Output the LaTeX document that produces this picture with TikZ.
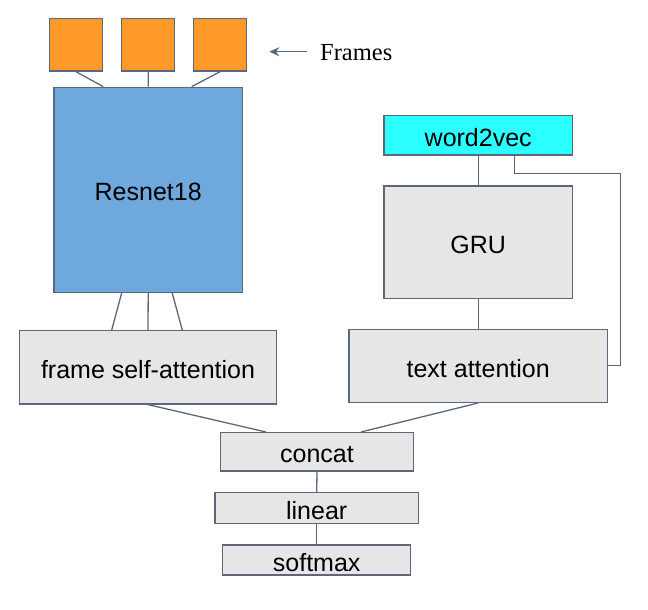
\documentclass[tikz,border=0pt]{standalone}
\usepackage{fontspec}
\setmainfont{Liberation Sans}
\newfontfamily\seriffam{Liberation Serif}
\usetikzlibrary{arrows.meta}
\definecolor{edgec}{RGB}{92,104,122}
\definecolor{grayfill}{RGB}{230,230,230}
\definecolor{orangefill}{RGB}{255,154,42}
\definecolor{bluefill}{RGB}{111,168,220}
\definecolor{cyanfill}{RGB}{44,255,255}
\newcommand{\lbl}[1]{\raisebox{-2.5pt}[\height][\depth]{#1}}
\tikzset{
  box/.style={draw=edgec, line width=1.3pt, inner sep=0pt, fill=grayfill,
    font=\fontsize{25}{29}\selectfont, text=black},
  conn/.style={draw=edgec, line width=1.3pt},
}
\begin{document}
\begin{tikzpicture}[x=1pt,y=-1pt]
\useasboundingbox (0,0) rectangle (648,610);
% frames
\node[box, fill=orangefill, minimum width=53pt, minimum height=52.5pt] (f1) at (76,44.8) {};
\node[box, fill=orangefill, minimum width=53pt, minimum height=52.5pt] (f2) at (148.3,44.8) {};
\node[box, fill=orangefill, minimum width=53pt, minimum height=52.5pt] (f3) at (220,44.8) {};
\node[inner sep=0pt, anchor=west, font=\seriffam\fontsize{24.5}{29}\selectfont] (frames) at (320,53) {Frames};
\coordinate (ah) at (269.3,51.7);
\draw[conn, -{Stealth[length=10pt,width=9pt]}] ([xshift=-13pt,yshift=1.3pt]frames.west) -- (ah);
% resnet
\node[box, fill=bluefill, minimum width=188.3pt, minimum height=205pt] (res) at (148.2,189.8) {\lbl{Resnet18}};
\node[box, minimum width=257.4pt, minimum height=73.3pt] (fsa) at (148,367.3) {\lbl{frame self-attention}};
% text branch
\node[box, fill=cyanfill, minimum width=188.3pt, minimum height=39.3pt] (w2v) at (478.2,135.3) {\lbl{word2vec}};
\node[box, minimum width=188.3pt, minimum height=112.3pt] (gru) at (478.2,242.2) {\lbl{GRU}};
\node[box, minimum width=258.3pt, minimum height=73pt] (ta) at (478.2,365.8) {\lbl{text attention}};
% bottom
\node[box, minimum width=192.6pt, minimum height=38.3pt] (concat) at (317,451.8) {\lbl{concat}};
\node[box, minimum width=203.3pt, minimum height=30.6pt] (linear) at (316.7,508) {\lbl{linear}};
\node[box, minimum width=188pt, minimum height=30pt] (softmax) at (316.7,560) {\lbl{softmax}};
% connectors
\draw[conn] (f1.south) -- ([xshift=-45pt]res.north);
\draw[conn] (f2.south) -- (res.north);
\draw[conn] (f3.south) -- ([xshift=43.5pt]res.north);
\draw[conn] ([xshift=-26.5pt]res.south) -- ([xshift=-36.3pt]fsa.north);
\draw[conn] (res.south) -- (fsa.north);
\draw[conn] ([xshift=24pt]res.south) -- ([xshift=34.3pt]fsa.north);
\draw[conn] (w2v.south) -- (gru.north);
\draw[conn] (gru.south) -- (ta.north);
\coordinate (cr) at (620.7,173.3);
\draw[conn] ([xshift=36.1pt]w2v.south) |- (cr) |- (ta.east);
\draw[conn] (fsa.south) -- ([xshift=-51pt]concat.north);
\draw[conn] (ta.south) -- ([xshift=44pt]concat.north);
\draw[conn] (concat.south) -- (linear.north);
\draw[conn] (linear.south) -- (softmax.north);
\end{tikzpicture}
\end{document}
